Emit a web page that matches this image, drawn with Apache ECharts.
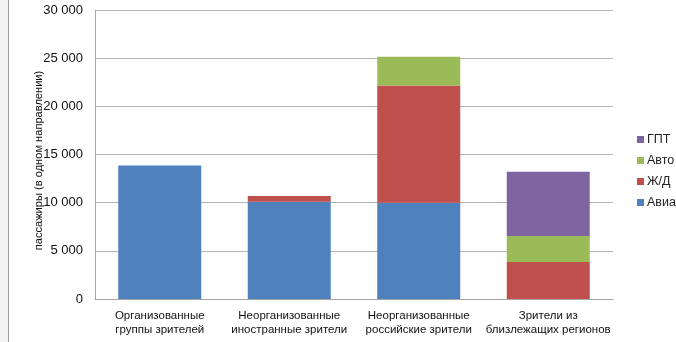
<!DOCTYPE html>
<html>
<head>
<meta charset="utf-8">
<script src="https://cdn.jsdelivr.net/npm/echarts@6/dist/echarts.min.js"></script>
<style>
  html, body { margin: 0; padding: 0; background: #fff; }
  #main { width: 676px; height: 342px; }
</style>
</head>
<body>
<div id="main"></div>
<script>
// пассажиропоток по группам зрителей
const categories = [
  'Организованные\nгруппы зрителей',
  'Неорганизованные\nиностранные зрители',
  'Неорганизованные\nроссийские зрители',
  'Зрители из\nблизлежащих регионов'
]
const avia = [13850, 10100, 10000, null]
const zhd = [null, 600, 12150, 3850]
const avto = [null, null, 3000, 2700]
const gpt = [null, null, null, 6650]
const legendOrder = ['ГПТ', 'Авто', 'Ж/Д', 'Авиа']

const font = 'Liberation Sans, Arial, sans-serif'

function bar (name, data, color) {
  return {
    name: name,
    type: 'bar',
    stack: 'total',
    barWidth: 83,
    itemStyle: { color: color },
    data: data
  }
}

let myChart = echarts.init(document.getElementById('main'))
let options = {
  animation: false,
  textStyle: { fontFamily: font },
  grid: { left: 95, right: 63, top: 10, bottom: 43 },
  legend: {
    orient: 'vertical',
    left: 632,
    top: 128,
    itemWidth: 7,
    itemHeight: 7,
    itemGap: 8,
    icon: 'rect',
    textStyle: { fontSize: 12.5, color: '#222', fontFamily: font, padding: [0, 0, 0, -2] },
    data: legendOrder
  },
  xAxis: {
    type: 'category',
    data: categories,
    axisLine: { lineStyle: { color: '#a6a6a6' } },
    axisTick: { show: false },
    axisLabel: { color: '#111', fontSize: 11.5, lineHeight: 14, margin: 10, interval: 0, fontFamily: font }
  },
  yAxis: {
    type: 'value',
    min: 0,
    max: 30000,
    interval: 5000,
    name: 'пассажиры (в одном направлении)',
    nameLocation: 'middle',
    nameGap: 51,
    nameMoveOverlap: false,
    nameTextStyle: { fontSize: 11.1, color: '#111', fontFamily: font, padding: [0, 12, 0, 0] },
    axisLine: { show: true, lineStyle: { color: '#a6a6a6' } },
    axisTick: { show: false },
    splitLine: { lineStyle: { color: '#b3b3b3' } },
    axisLabel: {
      color: '#111',
      fontSize: 13,
      margin: 12,
      fontFamily: font,
      formatter: v => String(v).replace(/\B(?=(\d{3})+(?!\d))/g, ' ')
    }
  },
  graphic: [
    { type: 'rect', shape: { x: 0, y: 0, width: 8, height: 342 }, style: { fill: '#f4f4f4' } },
    { type: 'line', shape: { x1: 8.5, y1: 0, x2: 8.5, y2: 342 }, style: { stroke: '#9a9a9a', lineWidth: 1 } }
  ],
  series: [
    bar('Авиа', avia, '#4f81bd'),
    bar('Ж/Д', zhd, '#c0504d'),
    bar('Авто', avto, '#9bbb59'),
    bar('ГПТ', gpt, '#8064a2')
  ]
}
myChart.setOption(options)
</script>
</body>
</html>
